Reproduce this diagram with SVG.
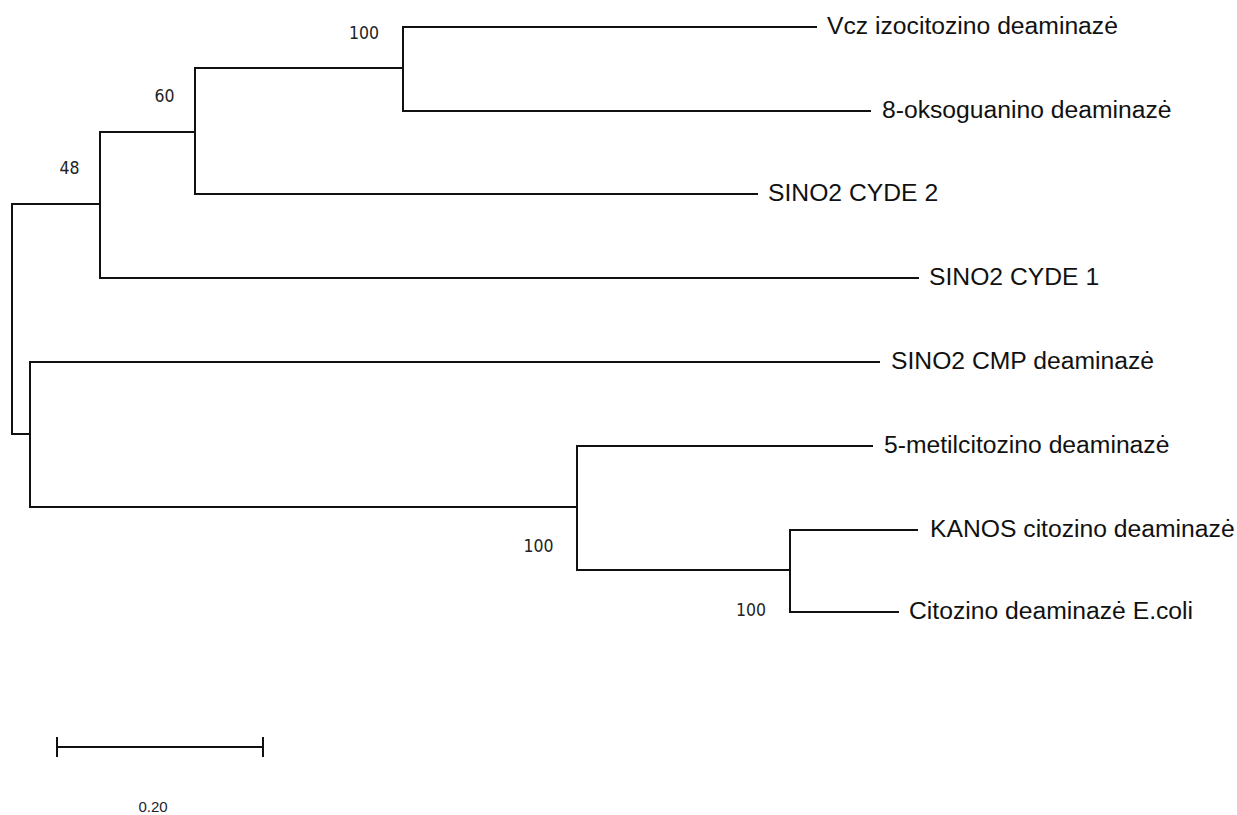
<svg xmlns="http://www.w3.org/2000/svg" width="1237" height="815" viewBox="0 0 1237 815">
<style>
.br{fill:none;stroke:#111;stroke-width:2;stroke-linecap:square;stroke-linejoin:miter}
.lab{font-family:"Liberation Sans",Arial,sans-serif;font-size:24.7px;fill:#111}
.bs{font-family:"DejaVu Sans Condensed","DejaVu Sans","Liberation Sans",sans-serif;font-size:17.5px;fill:#222}
.sc{font-family:"Liberation Sans",Arial,sans-serif;font-size:15px;fill:#223}
</style>
<rect width="1237" height="815" fill="#fff"/>
<g id="connectors">
<path class="br" d="M12,434 V204 H100"/>
<path class="br" d="M12,434 H30"/>
<path class="br" d="M100,132 V278 H918"/>
<path class="br" d="M100,132 H195"/>
<path class="br" d="M195,68 V194 H757"/>
<path class="br" d="M195,68 H403"/>
<path class="br" d="M403,27 V111 H870"/>
<path class="br" d="M403,27 H816"/>
<path class="br" d="M30,362 V507 H577"/>
<path class="br" d="M30,362 H879"/>
<path class="br" d="M577,446 V570 H790"/>
<path class="br" d="M577,446 H872"/>
<path class="br" d="M790,530 V612 H898"/>
<path class="br" d="M790,530 H917"/>
</g>
<g id="leaf-vcz"><text class="lab" x="827" y="34">Vcz izocitozino deaminazė</text></g>
<g id="leaf-8okso"><text class="lab" x="882" y="118">8-oksoguanino deaminazė</text></g>
<g id="leaf-cyde2"><text class="lab" x="768" y="201">SINO2 CYDE 2</text></g>
<g id="leaf-cyde1"><text class="lab" x="929" y="285">SINO2 CYDE 1</text></g>
<g id="leaf-cmp"><text class="lab" x="891" y="369">SINO2 CMP deaminazė</text></g>
<g id="leaf-5metil"><text class="lab" x="884" y="453">5-metilcitozino deaminazė</text></g>
<g id="leaf-kanos"><text class="lab" x="930" y="537">KANOS citozino deaminazė</text></g>
<g id="leaf-ecoli"><text class="lab" x="909" y="619">Citozino deaminazė E.coli</text></g>
<g id="node-403"><text class="bs" x="364" y="39" text-anchor="middle">100</text></g>
<g id="node-195"><text class="bs" x="164.5" y="102" text-anchor="middle">60</text></g>
<g id="node-100"><text class="bs" x="69.5" y="174" text-anchor="middle">48</text></g>
<g id="node-577"><text class="bs" x="538.5" y="552" text-anchor="middle">100</text></g>
<g id="node-790"><text class="bs" x="751" y="616" text-anchor="middle">100</text></g>
<g id="scale">
<path class="br" d="M57,747 H263 M57,738 V756 M263,738 V756"/>
<text class="sc" x="153" y="812" text-anchor="middle">0.20</text>
</g>
</svg>
